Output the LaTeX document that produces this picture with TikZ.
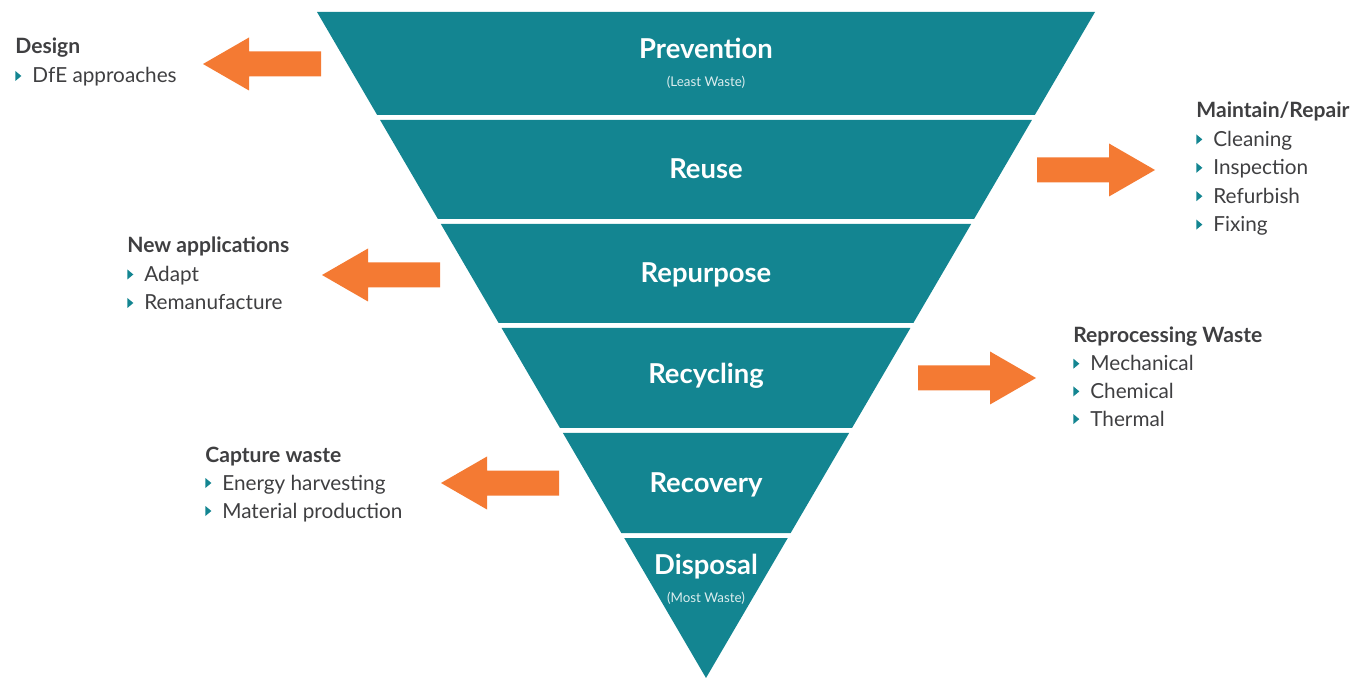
\documentclass[tikz,border=0pt]{standalone}
\usepackage{fontspec}
\setmainfont{Lato}
\usetikzlibrary{positioning}

\definecolor{wteal}{HTML}{138591}
\definecolor{worange}{HTML}{F47A33}
\definecolor{wtext}{HTML}{3F3F41}

\newcommand\tri{\tikz[x=1cm,y=1cm,baseline=0pt]\fill[wteal] (0,0.04) -- (0,0.24) -- (0.12,0.14) -- cycle;\hspace{0.22cm}}

\tikzset{
	stage/.style={anchor=base, text=white, inner sep=0pt, font=\bfseries\fontsize{15.6}{18}\selectfont},
	note/.style={anchor=base, text=white!85!wteal, inner sep=0pt, font=\fontsize{7.6}{9}\selectfont},
	head/.style={anchor=base west, text=wtext, inner sep=0pt, font=\bfseries\fontsize{12}{14}\selectfont},
	item/.style={anchor=base west, text=wtext, inner sep=0pt, font=\fontsize{11.8}{14}\selectfont},
	barrow/.pic={\fill[worange] (0,-12.5) -- (72,-12.5) -- (72,-26.5) -- (118,0) -- (72,26.5) -- (72,12.5) -- (0,12.5) -- cycle;}
}

\begin{document}
\begin{tikzpicture}[x=0.02cm, y=-0.02cm]
	\useasboundingbox (0,0) rectangle (1365,678);
	% hierarchy bands
	\foreach \t/\b in {12/115,120/219,224/323,328/428,433/533,538/678}{
		\pgfmathsetmacro\lt{317+0.5841*(\t-12)}
		\pgfmathsetmacro\rt{1095-0.5841*(\t-12)}
		\pgfmathsetmacro\lb{317+0.5841*(\b-12)}
		\pgfmathsetmacro\rb{1095-0.5841*(\b-12)}
		\fill[wteal] (\lt,\t) -- (\rt,\t) -- (\rb,\b) -- (\lb,\b) -- cycle;
	}
	\node[stage] (prevention) at (706,59) {Prevention};
	\node[note] (least) at (706,87) {(Least Waste)};
	\node[stage] (reuse) at (706,179) {Reuse};
	\node[stage] (repurpose) at (706,283) {Repurpose};
	\node[stage] (recycling) at (706,384) {Recycling};
	\node[stage] (recovery) at (706,492) {Recovery};
	\node[stage] (disposal) at (706,574) {Disposal};
	\node[note] (most) at (706,602) {(Most Waste)};

	% side arrows
	\pic[xscale=-1] at (321,64) {barrow};
	\pic at (1037,170) {barrow};
	\pic[xscale=-1] at (440,275) {barrow};
	\pic at (918,378) {barrow};
	\pic[xscale=-1] at (559,483) {barrow};

	% side lists
	\node[head] (design) at (15,54) {Design};
	\node[item] (design1) at (15,83) {\tri DfE approaches};

	\node[head] (maintain) at (1196,118) {Maintain/Repair};
	\foreach \t [count=\i] in {Cleaning,Inspection,Refurbish,Fixing}
		\node[item] (maintain\i) at (1196,{118+28.4*\i}) {\tri\t};

	\node[head] (newapp) at (127,253) {New applications};
	\foreach \t [count=\i] in {Adapt,Remanufacture}
		\node[item] (newapp\i) at (127,{253+28.5*\i}) {\tri\t};

	\node[head] (reprocess) at (1073,343) {Reprocessing Waste};
	\foreach \t [count=\i] in {Mechanical,Chemical,Thermal}
		\node[item] (reprocess\i) at (1073,{343+27.7*\i}) {\tri\t};

	\node[head] (capture) at (205,462) {Capture waste};
	\foreach \t [count=\i] in {Energy harvesting,Material production}
		\node[item] (capture\i) at (205,{462+28*\i}) {\tri\t};
\end{tikzpicture}
\end{document}
